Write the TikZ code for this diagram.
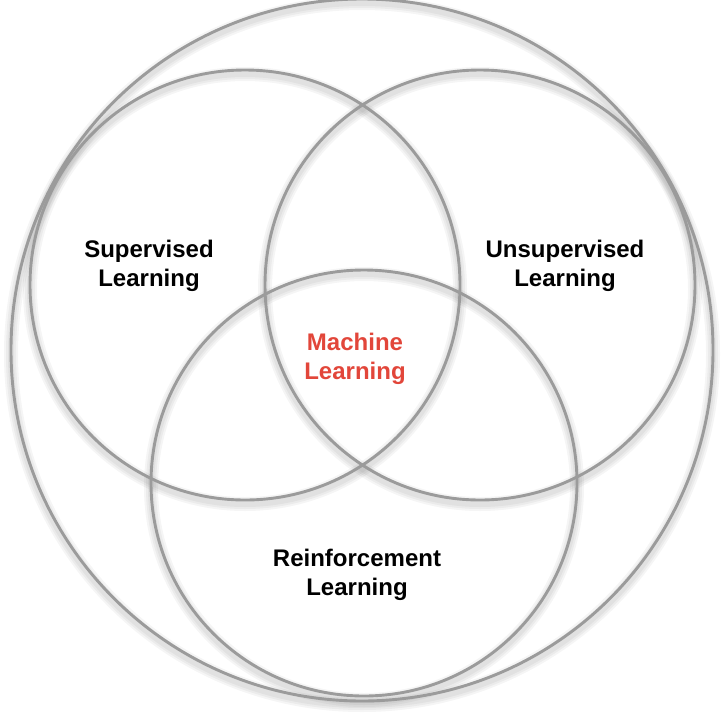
\documentclass[tikz,border=0pt]{standalone}
\usepackage{fontspec}
\setmainfont{Liberation Sans}
\definecolor{ringgray}{HTML}{9B9B9B}
\definecolor{mlred}{HTML}{E2463A}
\tikzset{
  ring/.style={draw=ringgray, line width=2.9pt},
  ringshadow/.style={draw=black, line width=#1, opacity=0.04},
  lbl/.style={font=\fontsize{24}{28.5}\selectfont\bfseries, align=center, text=black, inner sep=0pt},
  mllbl/.style={lbl, text=mlred}
}
\begin{document}
\begin{tikzpicture}[x=1pt,y=-1pt]
\useasboundingbox (0,0) rectangle (722,718);
\fill[white] (0,0) rectangle (722,718);
\coordinate (big) at (362,350);
\coordinate (sup) at (245,285);
\coordinate (uns) at (480,285);
\coordinate (rei) at (364,483);
% soft shadows
\foreach \w in {14pt,10pt,6pt}{
  \draw[ringshadow=\w] ([yshift=-4pt]big) circle (351);
  \draw[ringshadow=\w] ([yshift=-4pt]sup) circle (215);
  \draw[ringshadow=\w] ([yshift=-4pt]uns) circle (215);
  \draw[ringshadow=\w] ([yshift=-4pt]rei) circle (213);
}
\draw[ring] (big) circle (351);
\draw[ring] (sup) circle (215);
\draw[ring] (uns) circle (215);
\draw[ring] (rei) circle (213);
\node[lbl]  (supl) at (149,266) {Supervised\\Learning};
\node[lbl]  (unsl) at (565,266) {Unsupervised\\Learning};
\node[mllbl] (mll) at (355,359) {Machine\\Learning};
\node[lbl]  (reil) at (357,575) {Reinforcement\\Learning};
\end{tikzpicture}
\end{document}
